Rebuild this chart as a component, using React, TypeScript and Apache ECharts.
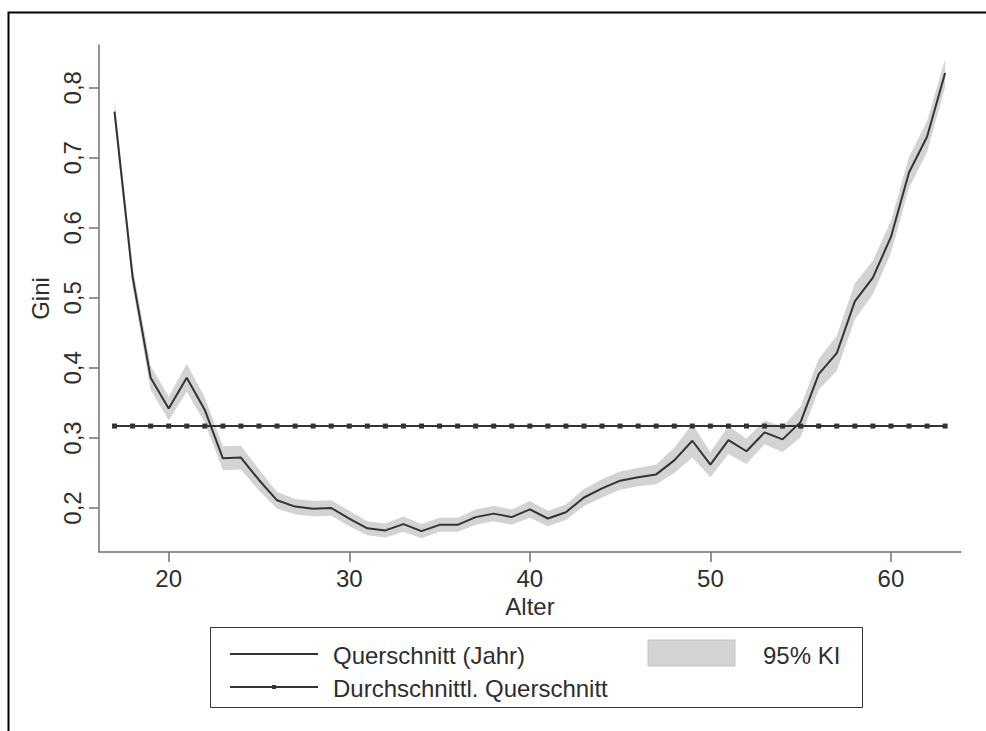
import React, { useEffect, useRef } from "react";
import * as echarts from "echarts";

// Age (Alter) 17..63
const ages = [17, 18, 19, 20, 21, 22, 23, 24, 25, 26, 27, 28, 29, 30, 31, 32, 33, 34, 35, 36, 37, 38, 39, 40,
  41, 42, 43, 44, 45, 46, 47, 48, 49, 50, 51, 52, 53, 54, 55, 56, 57, 58, 59, 60, 61, 62, 63];

// Querschnitt (Jahr) – Gini by age
const gini = [0.766, 0.530, 0.386, 0.342, 0.386, 0.340, 0.271, 0.272, 0.240, 0.211, 0.202, 0.199, 0.200, 0.185,
  0.171, 0.168, 0.177, 0.167, 0.176, 0.176, 0.187, 0.192, 0.187, 0.198, 0.185, 0.194, 0.215, 0.228, 0.239,
  0.244, 0.248, 0.268, 0.296, 0.262, 0.297, 0.281, 0.308, 0.298, 0.323, 0.391, 0.421, 0.495, 0.529, 0.587,
  0.679, 0.730, 0.821];

// 95% KI lower / upper bounds
const ciLower = [0.751, 0.515, 0.369, 0.325, 0.366, 0.322, 0.254, 0.255, 0.225, 0.199, 0.191, 0.188, 0.189, 0.174,
  0.161, 0.158, 0.166, 0.157, 0.166, 0.166, 0.176, 0.181, 0.176, 0.186, 0.174, 0.183, 0.203, 0.215, 0.226,
  0.231, 0.234, 0.250, 0.272, 0.244, 0.277, 0.263, 0.291, 0.280, 0.301, 0.369, 0.396, 0.469, 0.505, 0.564,
  0.657, 0.708, 0.801];
const ciUpper = [0.781, 0.545, 0.403, 0.359, 0.406, 0.358, 0.288, 0.289, 0.255, 0.223, 0.213, 0.210, 0.211, 0.196,
  0.181, 0.178, 0.188, 0.177, 0.186, 0.186, 0.198, 0.203, 0.198, 0.210, 0.196, 0.205, 0.227, 0.241, 0.252,
  0.257, 0.262, 0.286, 0.320, 0.280, 0.317, 0.299, 0.325, 0.316, 0.345, 0.413, 0.446, 0.521, 0.553, 0.610,
  0.701, 0.752, 0.841];

// Durchschnittl. Querschnitt (constant average)
const meanGini = 0.317;

const xTicks = [20, 30, 40, 50, 60];
const yTicks = [0.2, 0.3, 0.4, 0.5, 0.6, 0.7, 0.8];

const FONT = "'Liberation Sans', Arial, Helvetica, sans-serif";
const FS = 24;
const LINE = "#333333";
const AXIS = "#707070";
const BAND = "#d3d3d3";
const TEXT = "#2e2e2e";

export default function App() {
  const ref = useRef<HTMLDivElement>(null);

  useEffect(() => {
    if (!ref.current) return;
    const chart = echarts.init(ref.current, null, { renderer: "svg" });

    const bandData = ages.map((a, i) => [a, ciLower[i], ciUpper[i]]);

    const option: any = {
      animation: false,
      backgroundColor: "#ffffff",
      grid: { left: 99, top: 45, width: 862, height: 507, containLabel: false },
      xAxis: {
        type: "value",
        min: 16.14,
        max: 63.88,
        name: "Alter",
        nameLocation: "middle",
        nameGap: 42,
        nameTextStyle: { fontFamily: FONT, fontSize: FS, color: TEXT },
        axisLine: { show: true, lineStyle: { color: AXIS, width: 1.5 } },
        axisTick: { show: true, length: 10, customValues: xTicks, lineStyle: { color: AXIS, width: 1.5 } },
        axisLabel: { customValues: xTicks, margin: 14, fontFamily: FONT, fontSize: FS, color: TEXT },
        splitLine: { show: false },
      },
      yAxis: {
        type: "value",
        min: 0.1372,
        max: 0.861,
        name: "Gini",
        nameLocation: "middle",
        nameGap: 46,
        nameTextStyle: { fontFamily: FONT, fontSize: FS, color: TEXT },
        axisLine: { show: true, lineStyle: { color: AXIS, width: 1.5 } },
        axisTick: { show: true, length: 10, customValues: yTicks, lineStyle: { color: AXIS, width: 1.5 } },
        axisLabel: {
          customValues: yTicks,
          rotate: 90,
          margin: 15,
          fontFamily: FONT,
          fontSize: FS,
          color: TEXT,
          formatter: (v: number) => v.toFixed(1).replace(".", ","),
        },
        splitLine: { show: false },
      },
      series: [
        {
          type: "custom",
          name: "95% KI",
          z: 1,
          data: bandData,
          encode: { x: 0, y: [1, 2] },
          renderItem: (params: any, api: any) => {
            if (params.dataIndex !== 0) return null;
            const upperPts = ages.map((a, i) => api.coord([a, ciUpper[i]]));
            const lowerPts = ages.map((a, i) => api.coord([a, ciLower[i]])).reverse();
            return {
              type: "polygon",
              shape: { points: upperPts.concat(lowerPts) },
              style: { fill: BAND, stroke: "none" },
            };
          },
        },
        {
          type: "line",
          name: "Durchschnittl. Querschnitt",
          z: 3,
          data: ages.map((a) => [a, meanGini]),
          symbol: "rect",
          symbolSize: 5,
          showSymbol: true,
          itemStyle: { color: LINE },
          lineStyle: { color: LINE, width: 2 },
        },
        {
          type: "line",
          name: "Querschnitt (Jahr)",
          z: 4,
          data: ages.map((a, i) => [a, gini[i]]),
          symbol: "none",
          lineStyle: { color: LINE, width: 2 },
        },
      ],
      graphic: [
        {
          type: "rect",
          left: 6,
          top: 10,
          shape: { x: 0, y: 0, width: 1000, height: 800 },
          style: { fill: "none", stroke: "#000", lineWidth: 2 },
          silent: true,
        },
        {
          type: "group",
          children: [
            {
              type: "rect",
              shape: { x: 210.5, y: 627.5, width: 652, height: 80 },
              style: { fill: "#fff", stroke: "#333", lineWidth: 1 },
            },
            {
              type: "line",
              shape: { x1: 230, y1: 654, x2: 318, y2: 654 },
              style: { stroke: LINE, lineWidth: 2 },
            },
            {
              type: "text",
              x: 333,
              y: 655,
              style: { text: "Querschnitt (Jahr)", font: `${FS}px ${FONT}`, fill: TEXT, verticalAlign: "middle" },
            },
            {
              type: "rect",
              shape: { x: 648, y: 640, width: 87, height: 26 },
              style: { fill: BAND, stroke: "#c4c4c4", lineWidth: 1 },
            },
            {
              type: "text",
              x: 763,
              y: 655,
              style: { text: "95% KI", font: `${FS}px ${FONT}`, fill: TEXT, verticalAlign: "middle" },
            },
            {
              type: "line",
              shape: { x1: 230, y1: 687, x2: 318, y2: 687 },
              style: { stroke: LINE, lineWidth: 2 },
            },
            {
              type: "rect",
              shape: { x: 272, y: 685, width: 4, height: 4 },
              style: { fill: LINE },
            },
            {
              type: "text",
              x: 333,
              y: 688,
              style: { text: "Durchschnittl. Querschnitt", font: `${FS}px ${FONT}`, fill: TEXT, verticalAlign: "middle" },
            },
          ],
        },
      ],
    };

    chart.setOption(option);
    return () => chart.dispose();
  }, []);

  return (
    <div
      ref={ref}
      style={{ position: "fixed", left: 0, top: 0, width: 986, height: 731, background: "#fff" }}
    />
  );
}
